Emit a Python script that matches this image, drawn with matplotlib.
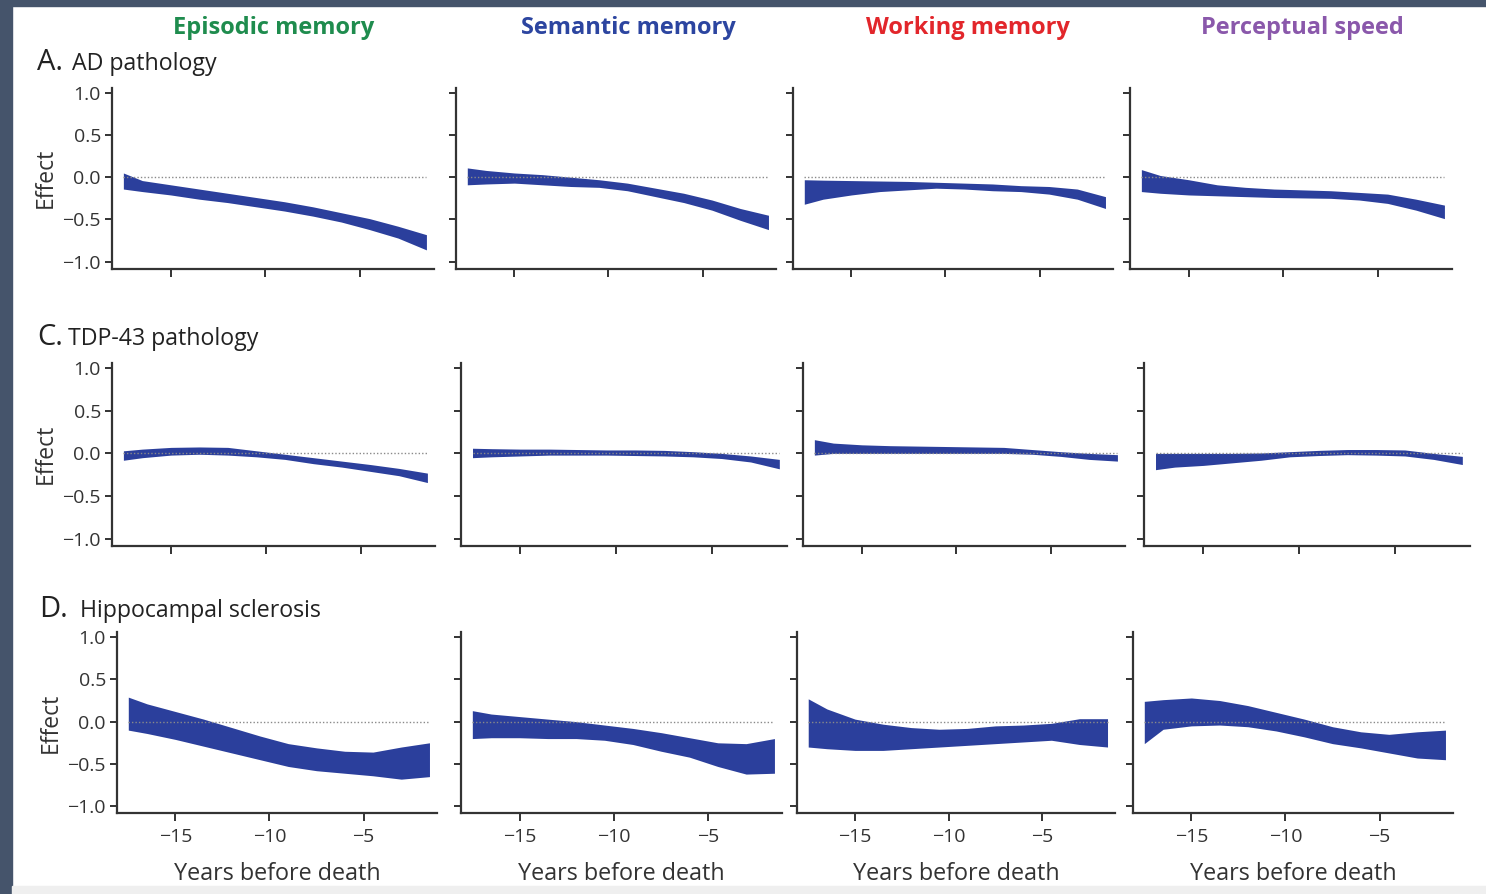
import numpy as np
import matplotlib
matplotlib.use('Agg')
import matplotlib.pyplot as plt
from matplotlib.patches import Rectangle

plt.rcParams['font.family'] = ['Open Sans', 'DejaVu Sans']

# years before death at which the band edges were read
years = [-17.5, -16.5, -15, -13.5, -12, -10.5, -9, -7.5, -6, -4.5, -3, -1.5]

columns = ['Episodic memory', 'Semantic memory', 'Working memory', 'Perceptual speed']
col_colors = ['#1f8c4e', '#2c45a0', '#e2262b', '#8a58ab']
row_letters = ['A.', 'C.', 'D.']
row_titles = ['AD pathology', 'TDP-43 pathology', 'Hippocampal sclerosis']
yticks = [-1.0, -0.5, 0.0, 0.5, 1.0]
xticks = [-15, -10, -5]

# A. AD pathology
ad_epi_hi = [0.05, -0.04, -0.09, -0.14, -0.19, -0.24, -0.29, -0.35, -0.42, -0.49, -0.58, -0.68]
ad_epi_lo = [-0.14, -0.17, -0.21, -0.26, -0.30, -0.35, -0.40, -0.46, -0.53, -0.62, -0.72, -0.86]
ad_sem_hi = [0.11, 0.08, 0.05, 0.03, 0.00, -0.03, -0.07, -0.13, -0.19, -0.27, -0.37, -0.45]
ad_sem_lo = [-0.09, -0.08, -0.07, -0.09, -0.11, -0.12, -0.16, -0.23, -0.30, -0.39, -0.51, -0.62]
ad_wm_hi = [-0.03, -0.035, -0.04, -0.045, -0.05, -0.06, -0.07, -0.08, -0.10, -0.11, -0.14, -0.23]
ad_wm_lo = [-0.32, -0.26, -0.21, -0.17, -0.15, -0.13, -0.14, -0.16, -0.17, -0.20, -0.26, -0.37]
ad_ps_hi = [0.09, 0.02, -0.03, -0.09, -0.12, -0.14, -0.15, -0.16, -0.18, -0.20, -0.26, -0.33]
ad_ps_lo = [-0.17, -0.19, -0.21, -0.22, -0.23, -0.24, -0.245, -0.25, -0.27, -0.31, -0.39, -0.49]

# C. TDP-43 pathology
tdp_epi_hi = [0.03, 0.05, 0.07, 0.075, 0.07, 0.03, -0.01, -0.05, -0.09, -0.13, -0.175, -0.23]
tdp_epi_lo = [-0.08, -0.05, -0.02, -0.01, -0.02, -0.04, -0.07, -0.12, -0.16, -0.21, -0.26, -0.34]
tdp_sem_hi = [0.06, 0.055, 0.05, 0.05, 0.045, 0.04, 0.04, 0.035, 0.02, 0.0, -0.03, -0.07]
tdp_sem_lo = [-0.05, -0.04, -0.03, -0.02, -0.02, -0.02, -0.025, -0.03, -0.04, -0.06, -0.10, -0.18]
tdp_wm_hi = [0.16, 0.12, 0.10, 0.09, 0.085, 0.08, 0.075, 0.07, 0.045, 0.02, 0.0, -0.015]
tdp_wm_lo = [-0.02, 0.0, 0.0, 0.0, 0.0, 0.0, 0.0, 0.0, -0.01, -0.035, -0.07, -0.09]
tdp_ps_hi = [0.0, 0.0, 0.0, 0.0, 0.005, 0.02, 0.035, 0.045, 0.045, 0.04, 0.0, -0.035]
tdp_ps_lo = [-0.19, -0.16, -0.14, -0.11, -0.08, -0.04, -0.025, -0.015, -0.02, -0.03, -0.07, -0.13]

# D. Hippocampal sclerosis
hs_epi_hi = [0.29, 0.21, 0.12, 0.03, -0.07, -0.17, -0.26, -0.31, -0.35, -0.36, -0.30, -0.25]
hs_epi_lo = [-0.10, -0.14, -0.21, -0.29, -0.37, -0.45, -0.53, -0.58, -0.61, -0.64, -0.68, -0.65]
hs_sem_hi = [0.13, 0.09, 0.06, 0.03, 0.0, -0.04, -0.08, -0.13, -0.19, -0.25, -0.26, -0.20]
hs_sem_lo = [-0.20, -0.19, -0.19, -0.20, -0.20, -0.22, -0.27, -0.35, -0.42, -0.53, -0.62, -0.61]
hs_wm_hi = [0.27, 0.15, 0.03, -0.03, -0.07, -0.09, -0.08, -0.05, -0.04, -0.02, 0.035, 0.035]
hs_wm_lo = [-0.30, -0.32, -0.34, -0.34, -0.32, -0.30, -0.28, -0.26, -0.24, -0.22, -0.27, -0.30]
hs_ps_hi = [0.24, 0.26, 0.28, 0.25, 0.19, 0.11, 0.03, -0.06, -0.12, -0.15, -0.12, -0.10]
hs_ps_lo = [-0.26, -0.09, -0.05, -0.04, -0.06, -0.11, -0.18, -0.26, -0.31, -0.37, -0.43, -0.45]

bands = [
    [(ad_epi_lo, ad_epi_hi), (ad_sem_lo, ad_sem_hi), (ad_wm_lo, ad_wm_hi), (ad_ps_lo, ad_ps_hi)],
    [(tdp_epi_lo, tdp_epi_hi), (tdp_sem_lo, tdp_sem_hi), (tdp_wm_lo, tdp_wm_hi), (tdp_ps_lo, tdp_ps_hi)],
    [(hs_epi_lo, hs_epi_hi), (hs_sem_lo, hs_sem_hi), (hs_wm_lo, hs_wm_hi), (hs_ps_lo, hs_ps_hi)],
]

W, H = 1486, 894
band_color = '#2b3f9c'
ink = '#333333'


def minus(s):
    # real minus sign, as in the reference
    return s.replace('-', '\u2212')


fig = plt.figure(figsize=(W / 100, H / 100), dpi=100)
fig.patch.set_facecolor('white')

# dark frame strips on the left and top, light strip at the bottom
fig.patches.append(Rectangle((0, 0), 12 / W, 1, transform=fig.transFigure,
                             color='#45546b', zorder=0))
fig.patches.append(Rectangle((0, 1 - 6 / H), 1, 6 / H, transform=fig.transFigure,
                             color='#45546b', zorder=0))
fig.patches.append(Rectangle((12 / W, 0), 1, 8 / H, transform=fig.transFigure,
                             color='#efefef', zorder=0))

# axes boxes in pixels (top, bottom) per row and spine lefts / rights per panel
row_box = [(87.6, 268.5), (362.5, 546.0), (632.0, 813.0)]
col_lefts = [[112, 456, 793, 1130], [112, 461, 803, 1144], [117, 461, 797, 1133]]
col_rights = [[434, 776, 1113, 1452], [435, 787, 1125, 1470], [437, 782, 1115, 1453]]

for r in range(3):
    top, bot = row_box[r]
    for c in range(4):
        l = col_lefts[r][c]
        rr = col_rights[r][c]
        ax = fig.add_axes([l / W, 1 - bot / H, (rr - l) / W, (bot - top) / H])
        lo, hi = bands[r][c]
        ax.fill_between(years, lo, hi, color=band_color, linewidth=0, zorder=2)
        ax.plot([years[0], years[-1]], [0, 0], linestyle=(0, (1, 1.5)),
                color='#8a8a8a', linewidth=1.0, zorder=3)

        ax.set_xlim(-18.1, -1.1)
        ax.set_ylim(-1.08, 1.06)
        ax.set_xticks(xticks)
        ax.set_yticks(yticks)
        for side in ['top', 'right']:
            ax.spines[side].set_visible(False)
        for side in ['left', 'bottom']:
            ax.spines[side].set_color(ink)
            ax.spines[side].set_linewidth(1.6)
        ax.tick_params(axis='both', direction='out', length=5, width=1.4,
                       color=ink, labelcolor=ink, labelsize=14)
        ax.tick_params(axis='x', length=6, pad=5)
        ax.tick_params(axis='y', pad=3)

        if c == 0:
            ax.set_yticklabels([minus('%.1f' % v) for v in yticks])
            ax.set_ylabel('Effect', fontsize=16.5, color=ink, labelpad=3)
        else:
            ax.set_yticklabels([])
        if r == 2:
            ax.set_xticklabels([minus(str(v)) for v in xticks])
            ax.set_xlabel('Years before death', fontsize=16.8, color=ink, labelpad=11)
        else:
            ax.set_xticklabels([])

# column headings
col_centres = [274, 628, 968, 1302]
for c in range(4):
    fig.text(col_centres[c] / W, 1 - 28 / H, columns[c], color=col_colors[c],
             fontsize=17, fontweight='bold', ha='center', va='center')

# row headings
letter_x = [37, 37, 39]
title_x = [72, 68, 80]
baselines = [70, 345, 617]
for r in range(3):
    fig.text(letter_x[r] / W, 1 - baselines[r] / H, row_letters[r], fontsize=21,
             color='#222222', ha='left', va='baseline')
    fig.text(title_x[r] / W, 1 - baselines[r] / H, row_titles[r], fontsize=16.7,
             color='#222222', ha='left', va='baseline')

fig.savefig('out.png', dpi=100)
